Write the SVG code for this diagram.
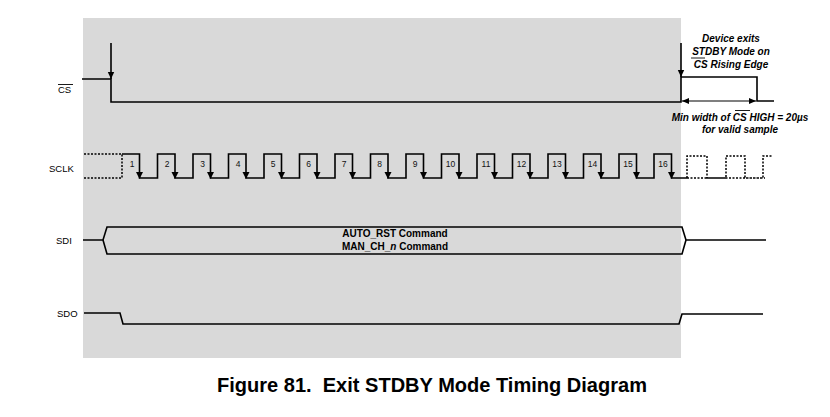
<svg xmlns="http://www.w3.org/2000/svg" xmlns:xlink="http://www.w3.org/1999/xlink" width="830" height="417" viewBox="0 0 830 417">
<style>
.w{fill:none;stroke:#000;stroke-width:1.6}
.d{fill:none;stroke:#000;stroke-width:1.5;stroke-dasharray:2,1.5}
.lbl{font-family:"Liberation Sans",Arial,sans-serif;font-size:9.5px;fill:#000}
.num{font-family:"Liberation Sans",Arial,sans-serif;font-size:8.5px;fill:#111;text-anchor:middle}
.bi{font-family:"Liberation Sans",Arial,sans-serif;font-size:10px;font-weight:bold;font-style:italic;fill:#000;text-anchor:middle}
.b{font-family:"Liberation Sans",Arial,sans-serif;font-size:10px;font-weight:bold;fill:#000;text-anchor:middle}
.t{font-family:"Liberation Sans",Arial,sans-serif;font-size:19.5px;font-weight:bold;fill:#000;text-anchor:middle;white-space:pre}
</style>
<defs>
<marker id="ar" markerWidth="8" markerHeight="8" refX="7" refY="4" orient="auto" markerUnits="userSpaceOnUse"><path d="M0,0.8 L7,4 L0,7.2 z" fill="#000"/></marker>
<marker id="ag" markerWidth="8" markerHeight="8" refX="7" refY="4" orient="auto-start-reverse" markerUnits="userSpaceOnUse"><path d="M0,1 L7,4 L0,7 z" fill="#000"/></marker>
<path id="ah" d="M-3.5,-7 L3.5,-7 L0,0 z" fill="#000"/>
</defs>
<rect x="83" y="18" width="598" height="340" fill="#d9d9d9"/>

<g id="labels">
<text class="lbl" x="58" y="93">CS</text>
<line x1="58" y1="84.5" x2="73" y2="84.5" stroke="#000" stroke-width="0.9"/>
<text class="lbl" x="49" y="172">SCLK</text>
<text class="lbl" x="56" y="244">SDI</text>
<text class="lbl" x="57" y="317">SDO</text>
</g>

<g id="cs">
<path class="w" d="M82,79 H111 V102 H681 V77 H757 V101 H774"/>
</g>

<g id="sclk">
<path class="d" d="M84,154 H122 V178 H84"/>
<path class="w" d="M122,154 H139.5 V178 H157.5 V154 H175 V178 H193 V154 H210.5 V178 H228.5 V154 H246 V178 H264 V154 H281.5 V178 H299.5 V154 H317 V178 H335 V154 H352.5 V178 H370.5 V154 H388 V178 H406 V154 H423.5 V178 H441.5 V154 H459 V178 H477 V154 H494.5 V178 H512.5 V154 H530 V178 H548 V154 H565.5 V178 H583.5 V154 H601 V178 H619 V154 H636.5 V178 H654 V154 H671.5 V178 H687"/>
<path class="d" d="M687,178 V156 H707 V178 H726 V156 H745 V178 H763 V156 H773 M687,178 H765"/>
<g>
<use xlink:href="#ah" x="139.5" y="179"/><use xlink:href="#ah" x="175" y="179"/><use xlink:href="#ah" x="210.5" y="179"/><use xlink:href="#ah" x="246" y="179"/>
<use xlink:href="#ah" x="281.5" y="179"/><use xlink:href="#ah" x="317" y="179"/><use xlink:href="#ah" x="352.5" y="179"/><use xlink:href="#ah" x="388" y="179"/>
<use xlink:href="#ah" x="423.5" y="179"/><use xlink:href="#ah" x="459" y="179"/><use xlink:href="#ah" x="494.5" y="179"/><use xlink:href="#ah" x="530" y="179"/>
<use xlink:href="#ah" x="565.5" y="179"/><use xlink:href="#ah" x="601" y="179"/><use xlink:href="#ah" x="636.5" y="179"/><use xlink:href="#ah" x="671.5" y="179"/>
</g>
<text class="num" x="132" y="167">1</text><text class="num" x="167" y="167">2</text><text class="num" x="202.5" y="167">3</text><text class="num" x="238" y="167">4</text>
<text class="num" x="273" y="167">5</text><text class="num" x="308.5" y="167">6</text><text class="num" x="344" y="167">7</text><text class="num" x="379.5" y="167">8</text>
<text class="num" x="415" y="167">9</text><text class="num" x="450.5" y="167">10</text><text class="num" x="486" y="167">11</text><text class="num" x="521.5" y="167">12</text>
<text class="num" x="557" y="167">13</text><text class="num" x="592.5" y="167">14</text><text class="num" x="628" y="167">15</text><text class="num" x="663" y="167" fill="#5a3a10">16</text>
</g>

<g id="sdi">
<path class="w" d="M83,240 H103 L107,227 H682 L686,240 L682,254 H107 L103,240 M686,240 H766"/>
<text class="b" x="395" y="237">AUTO_RST Command</text>
<text class="b" x="395" y="250">MAN_CH_<tspan font-style="italic">n</tspan> Command</text>
</g>

<g id="sdo">
<path class="w" d="M84,313 H120 L123,324 H679 L682,314 H763"/>
</g>

<g id="connectors">
<line class="w" x1="111" y1="43" x2="111" y2="79" marker-end="url(#ar)"/>
<line class="w" x1="681" y1="43" x2="681" y2="77" marker-end="url(#ar)"/>
<line x1="682" y1="101" x2="756" y2="101" stroke="#555" stroke-width="1.4" marker-start="url(#ag)" marker-end="url(#ag)"/>
</g>

<g id="notes">
<text class="bi" x="731" y="42">Device exits</text>
<text class="bi" x="731" y="55">STDBY Mode on</text>
<text class="bi" x="731" y="68">CS Rising Edge</text>
<line x1="691" y1="58" x2="705" y2="58" stroke="#000" stroke-width="0.9"/>
<text class="bi" x="740" y="121">Min width of CS HIGH = 20µs</text>
<line x1="735" y1="110.5" x2="750" y2="110.5" stroke="#000" stroke-width="0.9"/>
<text class="bi" x="740" y="133">for valid sample</text>
</g>

<text class="t" x="432" y="392" textLength="430" lengthAdjust="spacingAndGlyphs">Figure 81.  Exit STDBY Mode Timing Diagram</text>
</svg>
